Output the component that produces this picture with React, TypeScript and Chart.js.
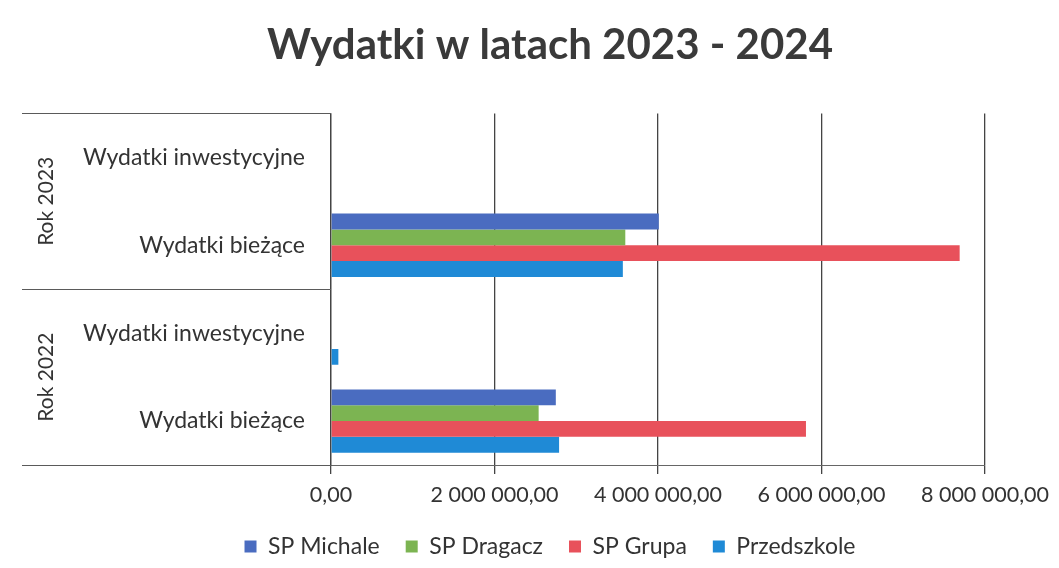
import React, { useEffect, useRef } from "react";
import { Chart, registerables } from "chart.js";

Chart.register(...registerables);

const categories = ["Wydatki inwestycyjne", "Wydatki bieżące", "Wydatki inwestycyjne", "Wydatki bieżące"];
const groups = ["Rok 2023", "Rok 2022"];
const spMichale = [0, 4010000, 0, 2750000];
const spDragacz = [0, 3600000, 0, 2540000];
const spGrupa = [0, 7690000, 0, 5810000];
const przedszkole = [0, 3570000, 90000, 2790000];
const xTickLabels = ["0,00", "2 000 000,00", "4 000 000,00", "6 000 000,00", "8 000 000,00"];

const FONT = "Lato, 'Open Sans', sans-serif";

const groupPlugin = {
  id: "groupAxis",
  afterDraw(chart: any) {
    const { ctx, chartArea, scales } = chart;
    const y = scales.y;
    const left = 22;
    const top = chartArea.top;
    const bottom = chartArea.bottom;
    const mid = (y.getPixelForValue(1) + y.getPixelForValue(2)) / 2;
    ctx.save();
    ctx.strokeStyle = "#5a5a5a";
    ctx.lineWidth = 1;
    [top, mid, bottom].forEach((yy) => {
      ctx.beginPath();
      ctx.moveTo(left, Math.round(yy) + 0.5);
      ctx.lineTo(chartArea.left, Math.round(yy) + 0.5);
      ctx.stroke();
    });
    ctx.fillStyle = "#333333";
    ctx.font = `21px ${FONT}`;
    ctx.textAlign = "center";
    ctx.textBaseline = "middle";
    const centers = [(top + mid) / 2, (mid + bottom) / 2];
    groups.forEach((g, i) => {
      ctx.save();
      ctx.translate(46, centers[i]);
      ctx.rotate(-Math.PI / 2);
      ctx.fillText(g, 0, 0);
      ctx.restore();
    });
    ctx.restore();
  },
};

export default function App() {
  const ref = useRef<HTMLCanvasElement>(null);
  useEffect(() => {
    if (!ref.current) return;
    const chart = new Chart(ref.current, {
      type: "bar",
      data: {
        labels: categories,
        datasets: [
          { label: "SP Michale", data: spMichale, backgroundColor: "#4a6cc0" },
          { label: "SP Dragacz", data: spDragacz, backgroundColor: "#7cb452" },
          { label: "SP Grupa", data: spGrupa, backgroundColor: "#e8515b" },
          { label: "Przedszkole", data: przedszkole, backgroundColor: "#1f8ad6" },
        ],
      },
      options: {
        indexAxis: "y",
        animation: false,
        responsive: false,
        maintainAspectRatio: false,
        layout: { padding: { left: 41, right: 0, top: 0, bottom: 0 } },
        datasets: { bar: { barPercentage: 1, categoryPercentage: 0.72 } },
        plugins: {
          title: {
            display: true,
            text: "Wydatki w latach 2023 - 2024",
            color: "#3a3a3a",
            font: { family: FONT, size: 42, weight: "bold" },
            padding: { top: 20, bottom: 43 },
          },
          legend: {
            position: "bottom",
            labels: {
              color: "#333333",
              font: { family: FONT, size: 23 },
              boxWidth: 12,
              boxHeight: 12,
              padding: 26,
            },
          },
          tooltip: { enabled: false },
        },
        scales: {
          x: {
            min: 0,
            max: 8000000,
            ticks: {
              stepSize: 2000000,
              color: "#333333",
              font: { family: FONT, size: 21.5 },
              padding: 8,
              maxRotation: 0,
              callback: (_v: any, i: number) => xTickLabels[i],
            },
            grid: { color: "#444444", lineWidth: 1.3, tickLength: 9, drawTicks: true },
            border: { display: true, color: "#666666", width: 1 },
            afterFit: (s: any) => {
              s.paddingLeft = 0;
              s.paddingRight = 74;
              s.height = 44;
            },
          },
          y: {
            ticks: {
              color: "#333333",
              font: { family: FONT, size: 23 },
              padding: 18,
            },
            grid: { display: false },
            border: { display: true, color: "#444444", width: 1.3 },
            afterFit: (s: any) => {
              s.width = 290;
              s.paddingTop = 0;
              s.paddingBottom = 0;
            },
          },
        },
      },
      plugins: [groupPlugin],
    } as any);
    return () => chart.destroy();
  }, []);
  return (
    <div style={{ position: "fixed", left: 0, top: 0, width: 1059, height: 568, background: "#fff" }}>
      <canvas ref={ref} width={1059} height={568} style={{ width: 1059, height: 568 }} />
    </div>
  );
}
